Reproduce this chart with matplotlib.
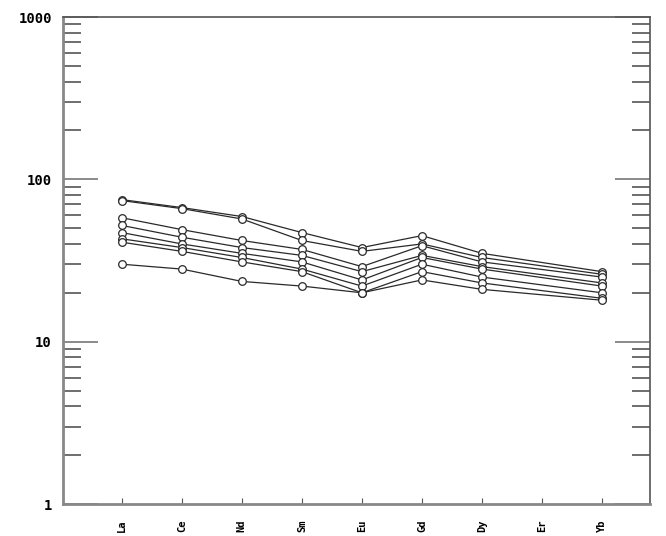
import numpy as np
import matplotlib.pyplot as plt
from matplotlib.ticker import LogLocator, NullFormatter, FixedLocator

elements = ['La', 'Ce', 'Nd', 'Sm', 'Eu', 'Gd', 'Dy', 'Er', 'Yb']
# Er has no analyses, lines run straight from Dy to Yb
used = ['La', 'Ce', 'Nd', 'Sm', 'Eu', 'Gd', 'Dy', 'Yb']

s1 = [75, 67, 59, 47, 38, 45, 35, 27]
s2 = [74, 66, 57, 42, 36, 40, 33, 26]
s3 = [58, 49, 42, 37, 29, 39, 31, 25]
s4 = [52, 44, 38, 34, 27, 34, 29, 23]
s5 = [47, 40, 35, 31, 24, 33, 28, 22]
s6 = [43, 38, 33, 28, 22, 30, 25, 20]
s7 = [41, 36, 31, 27, 20, 27, 23, 18.5]
s8 = [30, 28, 23.5, 22, 20, 24, 21, 18]
samples = [s1, s2, s3, s4, s5, s6, s7, s8]

xpos = [elements.index(e) for e in used]

fig = plt.figure(figsize=(6.66, 5.36), dpi=100)
ax = fig.add_axes([63/666, 1 - 504/536, (650 - 63)/666, (504 - 17)/536])

for s in samples:
    ax.plot(xpos, s, color='#2a2a2a', lw=0.9, marker='o', ms=5.5,
            mfc='white', mec='#2a2a2a', mew=0.9)

ax.set_yscale('log')
ax.set_ylim(1, 1000)
ax.set_xlim(-0.98, 8.8)

ax.set_xticks(range(len(elements)))
ax.set_xticklabels(elements, rotation=90, fontsize=7.5, fontweight='bold',
                   family='DejaVu Sans Mono')
ax.tick_params(axis='x', direction='in', length=4, width=0.8, color='#555555',
               pad=11, top=False)

ax.yaxis.set_major_locator(FixedLocator([1, 10, 100, 1000]))
ax.set_yticklabels(['1', '10', '100', '1000'])
ax.yaxis.set_minor_locator(LogLocator(base=10, subs=np.arange(2, 10)))
ax.yaxis.set_minor_formatter(NullFormatter())
ax.tick_params(axis='y', which='major', direction='in', length=25, width=1.2,
               color='#777777', left=True, right=True, labelsize=10, pad=8)
ax.tick_params(axis='y', which='minor', direction='in', length=13, width=1.2,
               color='#555555', left=True, right=True)
for lab in ax.get_yticklabels():
    lab.set_fontweight('bold')
    lab.set_family('DejaVu Sans Mono')

for side in ['left', 'bottom']:
    ax.spines[side].set_color('#888888')
    ax.spines[side].set_linewidth(2)
for side in ['top', 'right']:
    ax.spines[side].set_color('#555555')
    ax.spines[side].set_linewidth(1.2)

plt.savefig('out.png', dpi=100)
